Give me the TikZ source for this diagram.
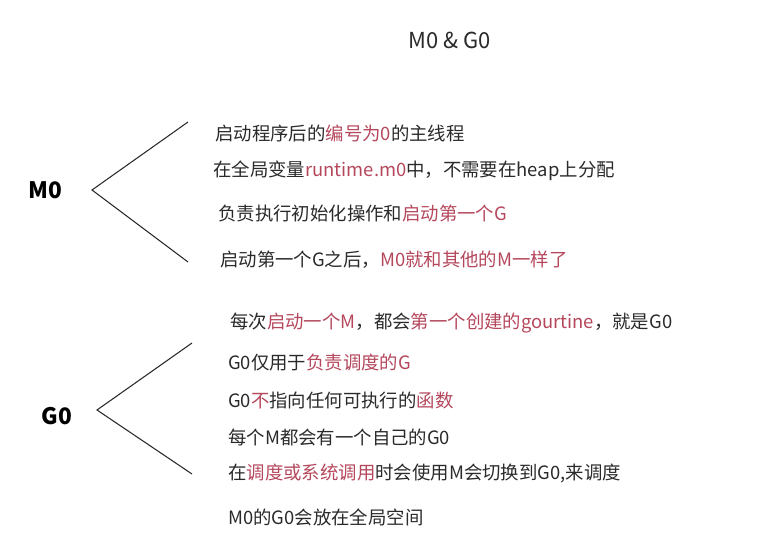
\documentclass[tikz,border=0pt]{standalone}
\usepackage{fontspec}
\setmainfont{Noto Sans CJK SC}
\definecolor{rd}{HTML}{B5475C}
\definecolor{tx}{HTML}{2A2A2A}
\newcommand{\hl}[1]{\textcolor{rd}{#1}}
\begin{document}
\begin{tikzpicture}[x=0.75pt,y=-0.75pt]
\tikzset{item/.style={anchor=west,inner sep=0pt,font=\fontsize{13.8pt}{15pt}\selectfont,text=tx},
 head/.style={inner sep=0pt,font=\fontsize{17pt}{19pt}\selectfont\bfseries,text=black},
 brace/.style={draw=tx,line width=0.8pt}}
\useasboundingbox (0,0) rectangle (762,545);
\node[inner sep=0pt,font=\fontsize{16.5pt}{18pt}\selectfont,text=tx] (title) at (450,40) {M0 \& G0};
\node[head] (m0) at (45,190) {M0};
\coordinate (m0t) at (92,190);
\coordinate (m0a) at (188,122);
\coordinate (m0b) at (188,262);
\draw[brace] (m0a) -- (m0t) -- (m0b);
\node[head] (g0) at (57,416) {G0};
\coordinate (g0t) at (97,410);
\coordinate (g0a) at (192,343);
\coordinate (g0b) at (192,474);
\draw[brace] (g0a) -- (g0t) -- (g0b);
\node[item] (l1) at (215,133) {启动程序后的\hl{编号为0}的主线程};
\node[item] (l2) at (213,171) {在全局变量\hl{runtime.m0}中，不需要在heap上分配};
\node[item] (l3) at (218,213) {负责执行初始化操作和\hl{启动第一个G}};
\node[item] (l4) at (220,260) {启动第一个G之后，\hl{M0就和其他的M一样了}};
\node[item] (l5) at (230,323) {每次\hl{启动一个M}，都会\hl{第一个创建的gourtine}，就是G0};
\node[item] (l6) at (228,363) {G0仅用于\hl{负责调度的G}};
\node[item] (l7) at (228,400) {G0\hl{不}指向任何可执行的\hl{函数}};
\node[item] (l8) at (228,437) {每个M都会有一个自己的G0};
\node[item] (l9) at (228,473) {在\hl{调度或系统调用}时会使用M会切换到G0,来调度};
\node[item] (l10) at (228,517) {M0的G0会放在全局空间};
\end{tikzpicture}
\end{document}
